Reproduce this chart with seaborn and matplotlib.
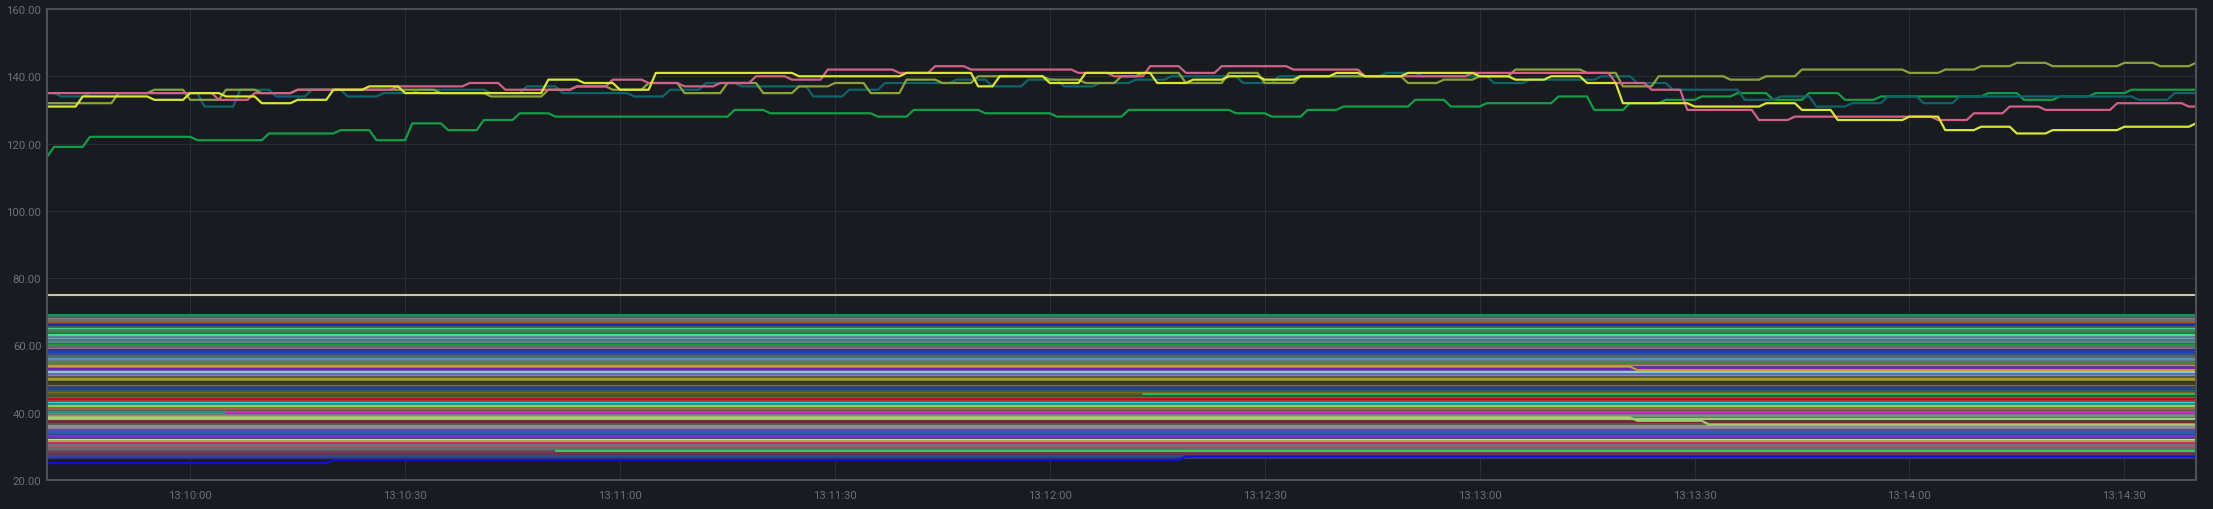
import numpy as np
import pandas as pd
import matplotlib
matplotlib.use("Agg")
import matplotlib.pyplot as plt
import matplotlib.dates as mdates
from matplotlib.ticker import FuncFormatter
import seaborn as sns

# time axis: one sample per second, 13:09:40 -> 13:14:40
start = pd.Timestamp("2024-01-01 13:09:40")
seconds = np.arange(0, 301)

# upper series, stored as (second where a value begins, value)
pink_t = [0, 24, 29, 35, 49, 59, 64, 74, 79, 84, 89, 94, 99, 104, 109, 119, 124, 129, 144, 149,
          154, 159, 164, 174, 184, 199, 219, 224, 229, 239, 244, 264, 269, 274, 279, 289, 299]
pink_v = [135, 133, 135, 136, 137, 138, 136, 137, 139, 138, 137, 138, 140, 139, 142, 141, 143, 142, 141, 140,
          143, 141, 143, 142, 140, 141, 138, 136, 130, 127, 128, 127, 129, 131, 130, 132, 131]

olive_t = [0, 10, 15, 20, 25, 30, 35, 55, 62, 70, 74, 79, 84, 89, 95, 100, 105, 110, 115, 120,
           125, 130, 140, 145, 150, 153, 159, 165, 170, 175, 190, 195, 200, 205, 215, 220, 225, 235,
           240, 245, 260, 265, 270, 275, 280, 290, 295, 300]
olive_v = [132, 135, 136, 133, 136, 135, 136, 135, 134, 136, 137, 136, 138, 135, 138, 135, 137, 138, 135, 139,
           138, 140, 139, 138, 140, 141, 138, 141, 138, 140, 138, 139, 140, 142, 141, 137, 140, 139,
           140, 142, 141, 142, 143, 144, 143, 144, 143, 144]

yellow_t = [0, 5, 15, 20, 25, 30, 35, 40, 45, 50, 70, 75, 80, 85, 105, 120, 130, 133, 140, 145,
            155, 160, 165, 170, 175, 180, 184, 190, 200, 205, 210, 215, 220, 230, 240, 245, 250, 260,
            265, 270, 275, 280, 290, 300]
yellow_v = [131, 134, 133, 135, 134, 132, 133, 136, 137, 135, 139, 138, 136, 141, 140, 141, 137, 140, 138, 141,
            138, 139, 140, 139, 140, 141, 140, 141, 140, 139, 140, 138, 132, 131, 132, 130, 127, 128,
            124, 125, 123, 124, 125, 126]

teal_t = [0, 2, 6, 22, 27, 32, 37, 42, 47, 52, 62, 67, 72, 82, 87, 92, 97, 107, 112, 117,
          127, 132, 137, 142, 147, 152, 157, 167, 172, 187, 192, 202, 207, 217, 222, 227, 237, 242,
          247, 252, 257, 262, 267, 292, 297]
teal_v = [135, 134, 135, 131, 136, 134, 136, 134, 135, 136, 135, 137, 135, 134, 136, 138, 137, 134, 136, 138,
          139, 137, 139, 137, 138, 139, 140, 138, 140, 141, 140, 138, 139, 140, 138, 136, 133, 134,
          131, 132, 134, 132, 134, 133, 135]

green_t = [0, 1, 6, 21, 31, 41, 46, 51, 56, 61, 66, 71, 96, 101, 116, 121, 131, 141, 151, 166,
           171, 176, 181, 191, 196, 201, 211, 216, 221, 226, 231, 236, 241, 246, 251, 256, 271, 276,
           281, 286, 291]
green_v = [116, 119, 122, 121, 123, 124, 121, 126, 124, 127, 129, 128, 130, 129, 128, 130, 129, 128, 130, 129,
           128, 130, 131, 133, 131, 132, 134, 130, 132, 133, 134, 135, 133, 135, 133, 134, 135, 133,
           134, 135, 136]

beige_v = 75

# lower band: near-constant series
band_levels = [69.0, 68.5, 68.0, 67.5, 67.0, 66.5, 66.0, 65.5, 65.0, 64.5, 64.0, 63.5, 63.0, 62.5,
               62.0, 61.5, 61.0, 60.5, 60.0, 59.5, 59.0, 58.5, 58.0, 57.5, 57.0, 56.5, 56.0, 55.5,
               55.0, 54.5, 54.0, 53.5, 53.0, 52.5, 52.0, 51.5, 51.0, 50.5, 50.0, 49.5, 49.0, 48.5,
               48.0, 47.5, 47.0, 46.5, 46.0, 45.5, 45.0, 44.5, 44.0, 43.5, 43.0, 42.5, 42.0, 41.5,
               41.0, 40.5, 39.5, 39.0, 38.5, 38.0, 37.5, 37.0, 36.5, 36.0, 35.5, 35.0, 34.5, 34.0,
               33.5, 33.0, 32.5, 32.0, 31.5, 31.0, 30.5, 30.0, 29.5, 29.0, 28.5, 28.0, 27.5, 27.0, 26.5]
band_colors = ["#1f8f5a", "#3a6a5a", "#7a8088", "#6a6f78", "#b0502a", "#2a3fbf", "#1a2fa0", "#555a66",
               "#3fcf8f", "#5a7a6a", "#1a8f3f", "#2a6a3a", "#3fe08f", "#5f7f8f", "#6f9fcf", "#4a7a7a",
               "#5a8a8a", "#2a6a5a", "#1a9a3a", "#6a6a6a", "#8a7a6a", "#1a3aaa", "#2040c0", "#3a4a8a",
               "#7a5a20", "#5a6a5a", "#5f8fbf", "#6a7a8a", "#3a8a4a", "#7a6a4a", "#b8a038", "#5a3a8a",
               "#7020b0", "#5a5aaa", "#8ad0d0", "#6a6aaa", "#8a80e0", "#5a5a3a", "#a89a20", "#8a8a30",
               "#3a3a1a", "#3a3a2a", "#808020", "#3a4a4a", "#204a80", "#2a5a7a", "#7a6a20", "#5a5a1a",
               "#2a5a2a", "#3a8a3a", "#b01030", "#c03030", "#20e0e0", "#2a8a8a", "#80e040", "#3a9a3a",
               "#a06050", "#5a5a4a", "#7a7a7a", "#7a9a6a", "#6a6a5a", "#a0d080", "#5a3a3a", "#7a2030",
               "#5a5a5a", "#909090", "#8a8a8a", "#6040c0", "#5050a0", "#2060c0", "#3a3a8a", "#8030e0",
               "#4a4a6a", "#d0e080", "#a0b060", "#c03070", "#5a7a7a", "#a06070", "#6a6a6a", "#209090",
               "#4a5a5a", "#803050", "#5a3a4a", "#2050a0", "#3a3a6a"]

# lower band: series that step
blue_t = [0, 40, 159]
blue_v = [25, 26, 27]
teal40_t = [0]
teal40_v = [40.3]
magenta40_t = [25]
magenta40_v = [40.0]
lime28_t = [71]
lime28_v = [28.7]
gold53_t = [0, 222]
gold53_v = [53.7, 52.7]
light38_t = [0, 222, 232]
light38_v = [38.6, 37.6, 36.5]
green45_t = [153]
green45_v = [45.6]


def expand(ts, vs):
    secs = seconds[seconds >= ts[0]]
    idx = np.searchsorted(ts, secs, side="right") - 1
    return secs, np.asarray(vs, float)[idx]


def frame(name, secs, vals):
    return pd.DataFrame({"time": start + pd.to_timedelta(secs, unit="s"),
                         "value": vals, "series": name})


# build long-form tables
band_parts, band_pal = [], {}
for i, (lvl, col) in enumerate(zip(band_levels, band_colors)):
    name = f"band{i}"
    band_parts.append(frame(name, seconds, np.full(len(seconds), lvl)))
    band_pal[name] = col

steps = [("teal40", teal40_t, teal40_v, "#1a9a8a"),
         ("magenta40", magenta40_t, magenta40_v, "#d020c0"),
         ("gold53", gold53_t, gold53_v, "#c8a030"),
         ("light38", light38_t, light38_v, "#a0d070"),
         ("green45", green45_t, green45_v, "#20c050"),
         ("lime28", lime28_t, lime28_v, "#35d04a"),
         ("blue", blue_t, blue_v, "#0a10e0")]
for name, ts, vs, col in steps:
    s, v = expand(ts, vs)
    band_parts.append(frame(name, s, v))
    band_pal[name] = col
band_parts.append(frame("beige", seconds, np.full(len(seconds), beige_v)))
band_pal["beige"] = "#c8c5a8"
band_df = pd.concat(band_parts, ignore_index=True)

upper = [("green", green_t, green_v, "#139d47"),
         ("teal", teal_t, teal_v, "#0f6469"),
         ("olive", olive_t, olive_v, "#8aa23c"),
         ("pink", pink_t, pink_v, "#d1608a"),
         ("yellow", yellow_t, yellow_v, "#d9e633")]
upper_parts, upper_pal = [], {}
for name, ts, vs, col in upper:
    s, v = expand(ts, vs)
    upper_parts.append(frame(name, s, v))
    upper_pal[name] = col
upper_df = pd.concat(upper_parts, ignore_index=True)

# style
bg = "#181b1f"
sns.set_style("dark", {"axes.facecolor": bg, "figure.facecolor": bg})
plt.rcParams["font.family"] = ["Roboto", "DejaVu Sans"]

fig = plt.figure(figsize=(22.13, 5.10), dpi=100)
ax = fig.add_axes([0.0212, 0.0569, 0.9711, 0.9235])

sns.lineplot(data=band_df, x="time", y="value", hue="series", palette=band_pal,
             hue_order=list(band_pal.keys()), estimator=None, legend=False,
             linewidth=1.5, ax=ax)
sns.lineplot(data=upper_df, x="time", y="value", hue="series", palette=upper_pal,
             hue_order=list(upper_pal.keys()), estimator=None, legend=False,
             linewidth=1.6, ax=ax)

ax.set_xlim(start, start + pd.Timedelta(seconds=300))
ax.set_ylim(20, 160)
ax.set_yticks([20, 40, 60, 80, 100, 120, 140, 160])
ax.yaxis.set_major_formatter(FuncFormatter(lambda v, p: f"{v:.2f}"))
ax.xaxis.set_major_locator(mdates.SecondLocator(bysecond=[0, 30]))
ax.xaxis.set_major_formatter(mdates.DateFormatter("%H:%M:%S"))
ax.set_xlabel("")
ax.set_ylabel("")

ax.grid(True, color="#2a2d32", linewidth=0.8)
ax.set_axisbelow(True)
ax.tick_params(axis="both", length=0, colors="#6c6f76", labelsize=8.2)
ax.tick_params(axis="y", pad=4)
ax.tick_params(axis="x", pad=7)
for sp in ax.spines.values():
    sp.set_visible(True)
    sp.set_color("#4e5055")
    sp.set_linewidth(1.5)

fig.savefig("out.png", dpi=100, facecolor=bg)
